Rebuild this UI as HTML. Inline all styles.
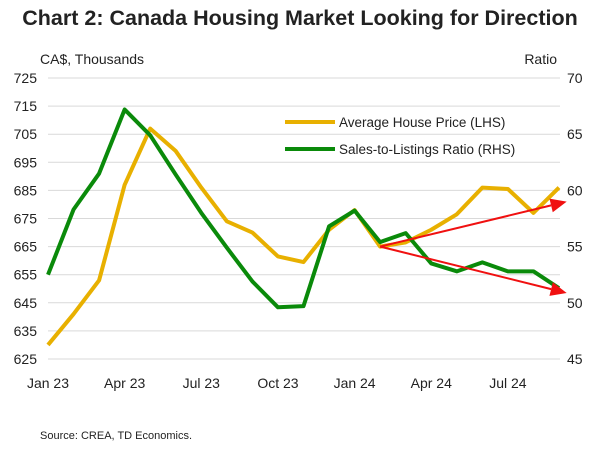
<!DOCTYPE html>
<html><head><meta charset="utf-8"><style>
body{margin:0;background:#fff;font-family:"Liberation Sans",sans-serif;}
svg text{font-family:"Liberation Sans",sans-serif;fill:#222;}
</style></head><body>
<svg width="600" height="448" viewBox="0 0 600 448">
<text x="300" y="25" text-anchor="middle" font-size="21.5" font-weight="bold">Chart 2: Canada Housing Market Looking for Direction</text>
<text x="40" y="64" font-size="14">CA$, Thousands</text>
<text x="557" y="64" font-size="14" text-anchor="end">Ratio</text>
<g id="grid"></g><g id="lt"></g><g id="rt"></g><g id="xt"></g><g id="series"></g><g id="arrows"></g>
<g>
<line x1="285" y1="122" x2="335" y2="122" stroke="#E8B000" stroke-width="4"/>
<text x="339" y="127" font-size="13.5">Average House Price (LHS)</text>
<line x1="285" y1="149" x2="335" y2="149" stroke="#0A8A0A" stroke-width="4"/>
<text x="339" y="154" font-size="13.5">Sales-to-Listings Ratio (RHS)</text>
</g>
<text x="40" y="439" font-size="11">Source: CREA, TD Economics.</text>
</svg>
<script>
const months=["Jan 23","Feb 23","Mar 23","Apr 23","May 23","Jun 23","Jul 23","Aug 23","Sep 23","Oct 23","Nov 23","Dec 23","Jan 24","Feb 24","Mar 24","Apr 24","May 24","Jun 24","Jul 24","Aug 24","Sep 24"];
const xTickLabels=["Jan 23","Apr 23","Jul 23","Oct 23","Jan 24","Apr 24","Jul 24"];
const price=[630,641,653,687,707,699,686,674,670,661.5,659.5,671,678,665,666.5,671,676.5,686,685.5,677,686];
const ratio=[52.5,58.3,61.5,67.2,64.9,61.4,58.0,54.9,51.9,49.6,49.7,56.8,58.2,55.4,56.2,53.5,52.8,53.6,52.8,52.8,51.3];
const leftTicks=[625,635,645,655,665,675,685,695,705,715,725];
const rightTicks=[45,50,55,60,65,70];
const trendStart=[13,665];
const trendUp=[20.3,681];
const trendDown=[20.3,648.5];
const NS="http://www.w3.org/2000/svg";
const x=i=>48+i*(559-48)/20;
const yL=v=>359-(v-625)*(281/100);
const yR=v=>359-(v-45)*(281/25);
function mk(tag,attrs,parent,txt){const e=document.createElementNS(NS,tag);for(const k in attrs)e.setAttribute(k,attrs[k]);if(txt!==undefined)e.textContent=txt;document.getElementById(parent).appendChild(e);return e;}
leftTicks.forEach(v=>{
 const g=mk('line',{x1:48,x2:560,y1:yL(v),y2:yL(v),stroke:'#d9d9d9','stroke-width':1},'grid');
 
 
 const t=mk('text',{x:37,y:yL(v)+5,'text-anchor':'end','font-size':14,fill:'#333'},'lt',v);
 
 
});
rightTicks.forEach(v=>{
 const t=mk('text',{x:567,y:yR(v)+5,'font-size':14,fill:'#333'},'rt',v);
 
 
});
xTickLabels.forEach(l=>{
 const i=months.indexOf(l);
 const t=mk('text',{x:x(i),y:388,'text-anchor':'middle','font-size':14,fill:'#333'},'xt',l);
 
 
});
const p1=mk('polyline',{points:price.map((v,i)=>x(i)+','+yL(v)).join(' '),fill:'none',stroke:'#E8B000','stroke-width':4,'stroke-linejoin':'round'},'series');


const p2=mk('polyline',{points:ratio.map((v,i)=>x(i)+','+yR(v)).join(' '),fill:'none',stroke:'#0A8A0A','stroke-width':4,'stroke-linejoin':'round'},'series');


function arrow(end,name){
 const x1=x(trendStart[0]),y1=yL(trendStart[1]),x2=x(end[0]),y2=yL(end[1]);
 const a=Math.atan2(y2-y1,x2-x1),L=16,W=7;
 const bx=x2-L*Math.cos(a),by=y2-L*Math.sin(a);
 const ln=mk('line',{x1:x1,y1:y1,x2:bx,y2:by,stroke:'#F01010','stroke-width':2},'arrows');
 
 
 const pts=[[x2,y2],[bx-W*Math.sin(a),by+W*Math.cos(a)],[bx+W*Math.sin(a),by-W*Math.cos(a)]];
 const hd=mk('polygon',{points:pts.map(p=>p.join(',')).join(' '),fill:'#F01010'},'arrows');
 
 
}
arrow(trendUp,'trend-up-arrow');
arrow(trendDown,'trend-down-arrow');
</script>
</body></html>
